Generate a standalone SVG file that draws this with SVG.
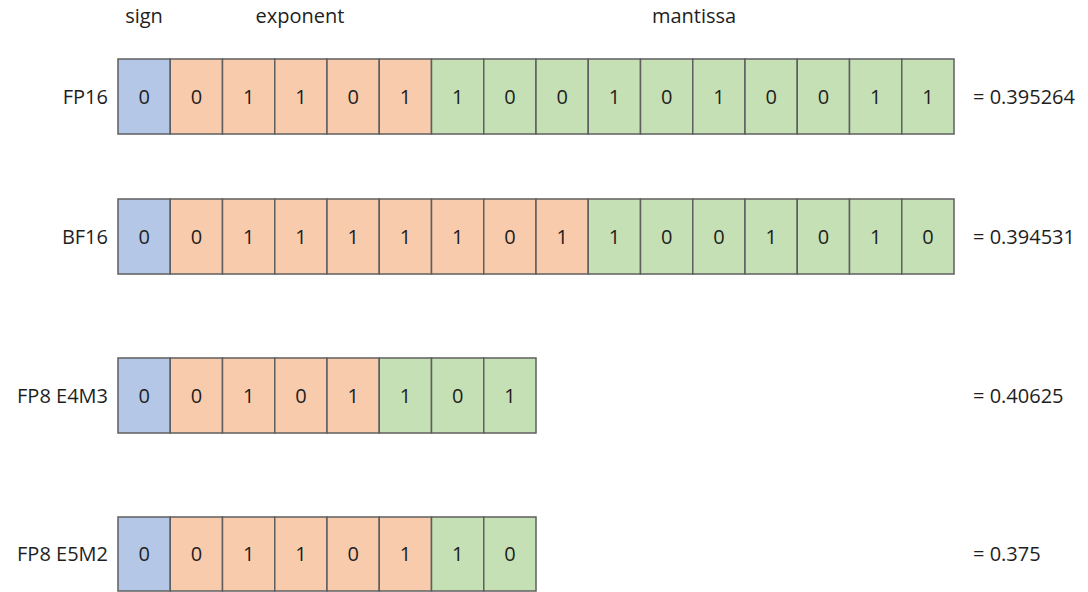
<svg xmlns="http://www.w3.org/2000/svg" width="1088" height="592" viewBox="0 0 1088 592">
<style>
text{font-family:"Open Sans","Liberation Sans",sans-serif;font-size:20px;fill:#1e1e1e}
.d{text-anchor:middle}
.l{text-anchor:end}
rect{stroke:#5f5f5f;stroke-width:1.5}
.s{fill:#b4c7e7}.e{fill:#f8cbad}.m{fill:#c5e0b4}
</style>
<rect width="1088" height="592" fill="#fff" style="stroke:none"/>
<g id="header">
<text x="144" y="23" class="d">sign</text>
<text x="300" y="23" class="d">exponent</text>
<text x="694" y="23" class="d">mantissa</text>
</g>
<g id="fp16">
<text x="108" y="104" class="l">FP16</text>
<rect class="s" x="118" y="59" width="52.25" height="75"/>
<rect class="e" x="170.25" y="59" width="52.25" height="75"/>
<rect class="e" x="222.5" y="59" width="52.25" height="75"/>
<rect class="e" x="274.75" y="59" width="52.25" height="75"/>
<rect class="e" x="327" y="59" width="52.25" height="75"/>
<rect class="e" x="379.25" y="59" width="52.25" height="75"/>
<rect class="m" x="431.5" y="59" width="52.25" height="75"/>
<rect class="m" x="483.75" y="59" width="52.25" height="75"/>
<rect class="m" x="536" y="59" width="52.25" height="75"/>
<rect class="m" x="588.25" y="59" width="52.25" height="75"/>
<rect class="m" x="640.5" y="59" width="52.25" height="75"/>
<rect class="m" x="692.75" y="59" width="52.25" height="75"/>
<rect class="m" x="745" y="59" width="52.25" height="75"/>
<rect class="m" x="797.25" y="59" width="52.25" height="75"/>
<rect class="m" x="849.5" y="59" width="52.25" height="75"/>
<rect class="m" x="901.75" y="59" width="52.25" height="75"/>
<text class="d" x="144.1" y="104">0</text>
<text class="d" x="196.4" y="104">0</text>
<text class="d" x="248.6" y="104">1</text>
<text class="d" x="300.9" y="104">1</text>
<text class="d" x="353.1" y="104">0</text>
<text class="d" x="405.4" y="104">1</text>
<text class="d" x="457.6" y="104">1</text>
<text class="d" x="509.9" y="104">0</text>
<text class="d" x="562.1" y="104">0</text>
<text class="d" x="614.4" y="104">1</text>
<text class="d" x="666.6" y="104">0</text>
<text class="d" x="718.9" y="104">1</text>
<text class="d" x="771.1" y="104">0</text>
<text class="d" x="823.4" y="104">0</text>
<text class="d" x="875.6" y="104">1</text>
<text class="d" x="927.9" y="104">1</text>
<text x="973" y="104">= 0.395264</text>
</g>
<g id="bf16">
<text x="108" y="244" class="l">BF16</text>
<rect class="s" x="118" y="199" width="52.25" height="75"/>
<rect class="e" x="170.25" y="199" width="52.25" height="75"/>
<rect class="e" x="222.5" y="199" width="52.25" height="75"/>
<rect class="e" x="274.75" y="199" width="52.25" height="75"/>
<rect class="e" x="327" y="199" width="52.25" height="75"/>
<rect class="e" x="379.25" y="199" width="52.25" height="75"/>
<rect class="e" x="431.5" y="199" width="52.25" height="75"/>
<rect class="e" x="483.75" y="199" width="52.25" height="75"/>
<rect class="e" x="536" y="199" width="52.25" height="75"/>
<rect class="m" x="588.25" y="199" width="52.25" height="75"/>
<rect class="m" x="640.5" y="199" width="52.25" height="75"/>
<rect class="m" x="692.75" y="199" width="52.25" height="75"/>
<rect class="m" x="745" y="199" width="52.25" height="75"/>
<rect class="m" x="797.25" y="199" width="52.25" height="75"/>
<rect class="m" x="849.5" y="199" width="52.25" height="75"/>
<rect class="m" x="901.75" y="199" width="52.25" height="75"/>
<text class="d" x="144.1" y="244">0</text>
<text class="d" x="196.4" y="244">0</text>
<text class="d" x="248.6" y="244">1</text>
<text class="d" x="300.9" y="244">1</text>
<text class="d" x="353.1" y="244">1</text>
<text class="d" x="405.4" y="244">1</text>
<text class="d" x="457.6" y="244">1</text>
<text class="d" x="509.9" y="244">0</text>
<text class="d" x="562.1" y="244">1</text>
<text class="d" x="614.4" y="244">1</text>
<text class="d" x="666.6" y="244">0</text>
<text class="d" x="718.9" y="244">0</text>
<text class="d" x="771.1" y="244">1</text>
<text class="d" x="823.4" y="244">0</text>
<text class="d" x="875.6" y="244">1</text>
<text class="d" x="927.9" y="244">0</text>
<text x="973" y="244">= 0.394531</text>
</g>
<g id="fp8e4m3">
<text x="108" y="403" class="l">FP8 E4M3</text>
<rect class="s" x="118" y="358" width="52.25" height="75"/>
<rect class="e" x="170.25" y="358" width="52.25" height="75"/>
<rect class="e" x="222.5" y="358" width="52.25" height="75"/>
<rect class="e" x="274.75" y="358" width="52.25" height="75"/>
<rect class="e" x="327" y="358" width="52.25" height="75"/>
<rect class="m" x="379.25" y="358" width="52.25" height="75"/>
<rect class="m" x="431.5" y="358" width="52.25" height="75"/>
<rect class="m" x="483.75" y="358" width="52.25" height="75"/>
<text class="d" x="144.1" y="403">0</text>
<text class="d" x="196.4" y="403">0</text>
<text class="d" x="248.6" y="403">1</text>
<text class="d" x="300.9" y="403">0</text>
<text class="d" x="353.1" y="403">1</text>
<text class="d" x="405.4" y="403">1</text>
<text class="d" x="457.6" y="403">0</text>
<text class="d" x="509.9" y="403">1</text>
<text x="973" y="403">= 0.40625</text>
</g>
<g id="fp8e5m2">
<text x="108" y="561" class="l">FP8 E5M2</text>
<rect class="s" x="118" y="517" width="52.25" height="74"/>
<rect class="e" x="170.25" y="517" width="52.25" height="74"/>
<rect class="e" x="222.5" y="517" width="52.25" height="74"/>
<rect class="e" x="274.75" y="517" width="52.25" height="74"/>
<rect class="e" x="327" y="517" width="52.25" height="74"/>
<rect class="e" x="379.25" y="517" width="52.25" height="74"/>
<rect class="m" x="431.5" y="517" width="52.25" height="74"/>
<rect class="m" x="483.75" y="517" width="52.25" height="74"/>
<text class="d" x="144.1" y="561">0</text>
<text class="d" x="196.4" y="561">0</text>
<text class="d" x="248.6" y="561">1</text>
<text class="d" x="300.9" y="561">1</text>
<text class="d" x="353.1" y="561">0</text>
<text class="d" x="405.4" y="561">1</text>
<text class="d" x="457.6" y="561">1</text>
<text class="d" x="509.9" y="561">0</text>
<text x="973" y="561">= 0.375</text>
</g>
<g id="connectors"/>
</svg>
